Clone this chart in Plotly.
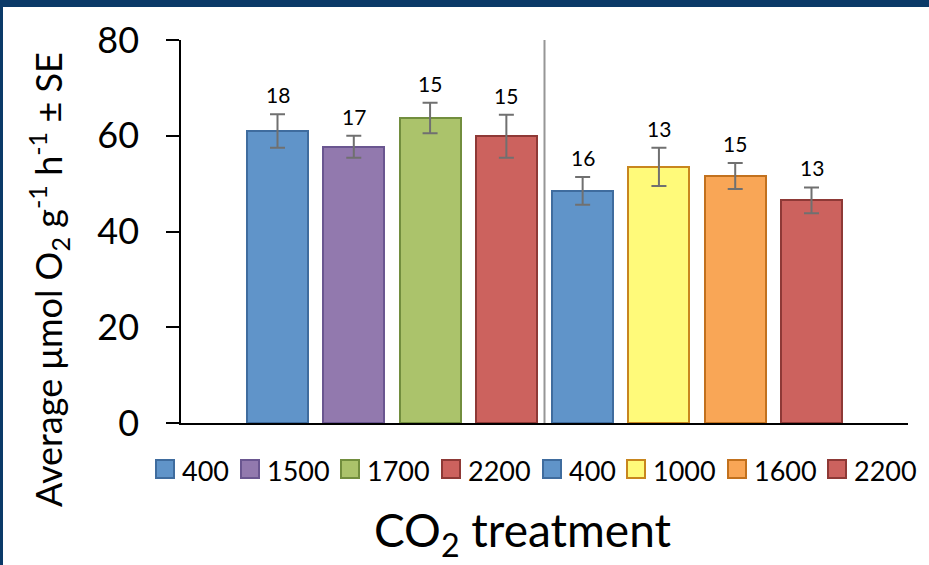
import plotly.graph_objects as go

# CO2 treatment groups (two experiments, split by the divider)
treatments = ["400", "1500", "1700", "2200", "400", "1000", "1600", "2200"]
mean_o2 = [61.0, 57.7, 63.7, 59.9, 48.5, 53.5, 51.6, 46.5]
se_o2 = [3.5, 2.3, 3.2, 4.5, 2.9, 4.0, 2.7, 2.7]
n_samples = [18, 17, 15, 15, 16, 13, 15, 13]

fill_colors = ["#6094C9", "#9279AE", "#ABC36B", "#CC625E",
               "#6094C9", "#FFFA7A", "#F9A656", "#CC625E"]
edge_colors = ["#3F6C9E", "#6A5690", "#728E3E", "#8E3936",
               "#3F6C9E", "#C8861E", "#C2711E", "#8E3936"]

W, H = 929, 565
ML, MR, MT, MB = 181, 21, 40, 142
PW, PH = W - ML - MR, H - MT - MB
FONT = "Lato"


def px_x(px):
    return (px - ML) / PW


def px_y(py):
    return 1 - (py - MT) / PH


positions = list(range(len(treatments)))

fig = go.Figure()
fig.add_trace(go.Bar(
    x=positions,
    y=mean_o2,
    width=0.8,
    marker=dict(color=fill_colors, line=dict(color=edge_colors, width=2)),
    error_y=dict(type="data", array=se_o2, visible=True,
                 color="#707070", thickness=2, width=7.5),
    showlegend=False,
    hoverinfo="skip",
))

annotations = []
# sample sizes above each error bar
for x, m, e, n in zip(positions, mean_o2, se_o2, n_samples):
    annotations.append(dict(
        x=x, y=m + e, xref="x", yref="y", text=str(n),
        showarrow=False, yanchor="bottom", yshift=5,
        font=dict(family=FONT, size=21, color="#000000"),
    ))

# legend row drawn as swatches + labels
legend_left = [156, 241, 341, 442, 543, 627, 728, 828]
shapes = []
for lx, name, fc, ec in zip(legend_left, treatments, fill_colors, edge_colors):
    shapes.append(dict(type="rect", xref="paper", yref="paper",
                       x0=px_x(lx), x1=px_x(lx + 18),
                       y0=px_y(478), y1=px_y(460),
                       fillcolor=fc, line=dict(color=ec, width=2)))
    annotations.append(dict(
        x=px_x(lx + 24), y=px_y(470), xref="paper", yref="paper",
        text=name, showarrow=False, xanchor="left", yanchor="middle",
        font=dict(family=FONT, size=27, color="#000000"),
    ))

# divider between the two experiments
shapes.append(dict(type="line", xref="x", yref="y", x0=3.5, x1=3.5,
                   y0=0, y1=80, line=dict(color="#969696", width=2)))

# slide frame: navy strip on top and left
shapes.append(dict(type="rect", xref="paper", yref="paper", layer="above",
                   x0=px_x(0), x1=px_x(W), y0=px_y(7), y1=px_y(0),
                   fillcolor="#0B3A68", line=dict(width=0)))
shapes.append(dict(type="rect", xref="paper", yref="paper", layer="above",
                   x0=px_x(0), x1=px_x(3), y0=px_y(H), y1=px_y(0),
                   fillcolor="#0B3A68", line=dict(width=0)))

# axis titles
annotations.append(dict(
    x=px_x(48), y=px_y(280), xref="paper", yref="paper",
    text="Average μmol O<sub>2</sub> g<sup>-1</sup> h<sup>-1</sup> ± SE",
    textangle=-90, showarrow=False, xanchor="center", yanchor="middle",
    font=dict(family=FONT, size=36, color="#000000"),
))
annotations.append(dict(
    x=px_x(522), y=px_y(533), xref="paper", yref="paper",
    text="CO<sub>2</sub> treatment", showarrow=False,
    xanchor="center", yanchor="middle",
    font=dict(family=FONT, size=46, color="#000000"),
))

fig.update_layout(
    width=W, height=H,
    margin=dict(l=ML, r=MR, t=MT, b=MB, pad=0),
    paper_bgcolor="#FFFFFF", plot_bgcolor="#FFFFFF",
    annotations=annotations, shapes=shapes,
    bargap=0,
)
fig.update_xaxes(range=[-1.265, 8.265], showticklabels=False, ticks="",
                 showgrid=False, zeroline=False, showline=True,
                 linecolor="#000000", linewidth=2, fixedrange=True)
fig.update_yaxes(range=[0, 80], tick0=0, dtick=20, ticks="outside",
                 ticklen=13, tickwidth=1.5, tickcolor="#000000",
                 showgrid=False, zeroline=False, showline=True,
                 linecolor="#000000", linewidth=1.5,
                 ticklabelstandoff=20,
                 tickfont=dict(family=FONT, size=36, color="#000000"),
                 fixedrange=True)

fig.write_html("out.html")
